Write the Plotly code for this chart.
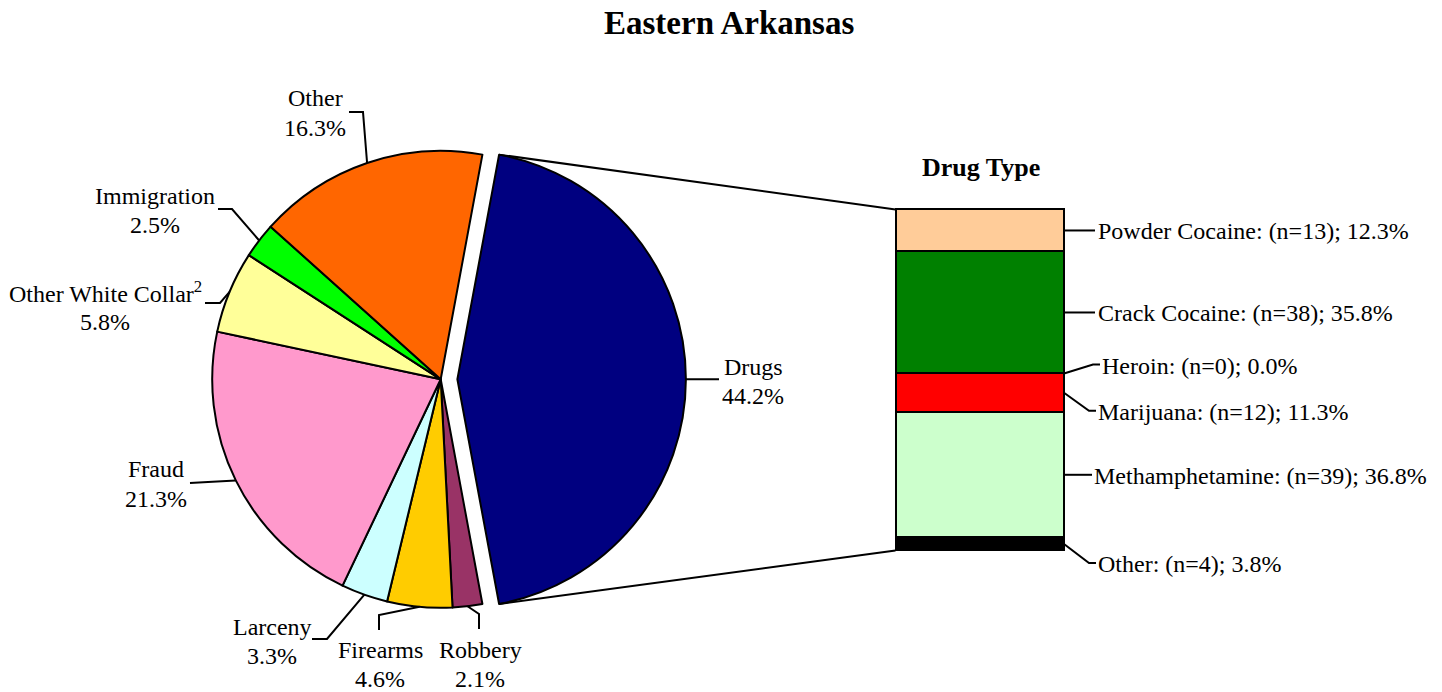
import math
import plotly.graph_objects as go

W, H = 1442, 692
FONT = "Liberation Serif"

# ---------------- data ----------------
# offense types, in clockwise order starting from the exploded Drugs slice
offense_labels = ["Drugs", "Robbery", "Firearms", "Larceny", "Fraud",
                  "Other White Collar<sup>2</sup>", "Immigration", "Other"]
offense_pct = [44.2, 2.1, 4.6, 3.3, 21.3, 5.8, 2.5, 16.3]
offense_colors = ["#000080", "#993366", "#FFCC00", "#CCFFFF", "#FF99CC",
                  "#FFFF99", "#00FF00", "#FF6600"]

# drug types, top to bottom in the stacked column
drug_labels = ["Powder Cocaine", "Crack Cocaine", "Heroin", "Marijuana",
               "Methamphetamine", "Other"]
drug_n = [13, 38, 0, 12, 39, 4]
drug_pct = [12.3, 35.8, 0.0, 11.3, 36.8, 3.8]
drug_colors = ["#FFCC99", "#008000", "#0000FF", "#FF0000", "#CCFFCC", "#000000"]

# ---------------- layout constants (pixels) ----------------
PIE_CX, PIE_CY, PIE_R = 440.7, 379.3, 228.5
PULL = 0.073

BAR_L, BAR_R = 895.5, 1064.0
BAR_BOT, BAR_TOP = 550.5, 209.5
XPAD, YPAD = 0.1, 3.0  # extra axis range so outlines are not clipped


def px(x):
    return x / W


def py(y):
    return 1 - y / H


fig = go.Figure()

# ---------------- pie ----------------
half = PIE_R * (1 + PULL)
total = sum(offense_pct)
drug_deg = 360 * offense_pct[0] / total
rotation = 90 - drug_deg / 2

fig.add_trace(go.Pie(
    labels=offense_labels,
    values=offense_pct,
    sort=False,
    direction="clockwise",
    rotation=rotation,
    pull=[PULL] + [0] * (len(offense_pct) - 1),
    marker=dict(colors=offense_colors, line=dict(color="black", width=2)),
    textinfo="none",
    hoverinfo="label+percent",
    showlegend=False,
    domain=dict(x=[px(PIE_CX - half), px(PIE_CX + half)],
                y=[py(PIE_CY + half), py(PIE_CY - half)]),
))

# ---------------- stacked column ----------------
xrange = [-0.5 - XPAD, 0.5 + XPAD]
unit_x = (BAR_R - BAR_L) / 1.0
dom_l = BAR_L - XPAD * unit_x
dom_r = BAR_R + XPAD * unit_x
unit_y = (BAR_BOT - BAR_TOP) / 100.0
dom_b = BAR_BOT + YPAD * unit_y
dom_t = BAR_TOP - YPAD * unit_y

for lab, val, col in reversed(list(zip(drug_labels, drug_pct, drug_colors))):
    fig.add_trace(go.Bar(
        x=[0], y=[val], width=1, name=lab,
        marker=dict(color=col, line=dict(color="black", width=2)),
        showlegend=False, hoverinfo="name+y",
    ))


def ybar(v):
    return BAR_BOT - v * unit_y


shapes = []
annotations = []


def path(points, width=2):
    d = "M " + " L ".join(f"{px(x):.5f},{py(y):.5f}" for x, y in points)
    shapes.append(dict(type="path", path=d, xref="paper", yref="paper",
                       line=dict(color="black", width=width)))


def text(x, y, s, size=24, xanchor="center", bold=False):
    if bold:
        s = f"<b>{s}</b>"
    annotations.append(dict(x=px(x), y=py(y), xref="paper", yref="paper",
                            text=s, showarrow=False, xanchor=xanchor,
                            yanchor="middle",
                            font=dict(family=FONT, size=size, color="black")))


# slice mid-angle attach points (clockwise degrees from 12 o'clock)
cum = 0.0
attach = []
for i, v in enumerate(offense_pct):
    mid = rotation + 360 * (cum + v / 2) / total
    cx = PIE_CX + (PULL * PIE_R * math.sin(math.radians(mid)) if i == 0 else 0)
    cy = PIE_CY - (PULL * PIE_R * math.cos(math.radians(mid)) if i == 0 else 0)
    attach.append((cx + PIE_R * math.sin(math.radians(mid)),
                   cy - PIE_R * math.cos(math.radians(mid))))
    cum += v

# label placement: (leader elbows, label centre x, line1 y, line2 y)
label_layout = {
    "Drugs": ([(719, None)], 753, 367, 396),
    "Robbery": ([(479, 614), (479, 629)], 480, 650, 679),
    "Firearms": ([(379, 615), (379, 630)], 380, 650, 679),
    "Larceny": ([(327, 639), (312, 639)], 272, 627, 656),
    "Fraud": ([(208, 482), (190, 483)], 156, 469, 499),
    "Other White Collar<sup>2</sup>": ([(220, 303), (205, 303)], 105, 292, 322),
    "Immigration": ([(232, 209), (218, 209)], 155, 196, 225),
    "Other": ([(363, 112), (349, 112)], 315, 98, 128),
}

for lab, val, (ax, ay) in zip(offense_labels, offense_pct, attach):
    pts, tx, y1, y2 = label_layout[lab]
    pts = [(x, ay if y is None else y) for x, y in pts]
    path([(ax, ay)] + pts)
    text(tx, y1, lab)
    text(tx, y2, f"{val:.1f}%")

# connector lines from the Drugs slice to the column
pcx = PIE_CX + PULL * PIE_R
for ang, ycorner in [(rotation, BAR_TOP), (rotation + drug_deg, BAR_BOT)]:
    ex = pcx + PIE_R * math.sin(math.radians(ang))
    ey = PIE_CY - PIE_R * math.cos(math.radians(ang))
    path([(ex, ey), (BAR_L, ycorner)], width=2)

# column labels
bounds = []
top = 100.0
for v in drug_pct:
    bounds.append((top, top - v))
    top -= v

# (anchor at segment "mid" or "bottom", vertical offset px, line end x, label x)
bar_label_style = {
    "Powder Cocaine": ("mid", 0, 1095, 1096),
    "Crack Cocaine": ("mid", 0, 1095, 1096),
    "Heroin": ("bottom", -9, 1100, 1100),
    "Marijuana": ("mid", 18, 1096, 1096),
    "Methamphetamine": ("mid", 0, 1092, 1092),
    "Other": ("mid", 19, 1096, 1096),
}
for lab, n, v, (t, b) in zip(drug_labels, drug_n, drug_pct, bounds):
    kind, dy, xend, xlab = bar_label_style[lab]
    ys = ybar((t + b) / 2) if kind == "mid" else ybar(b)
    ye = ys + dy
    if dy == 0:
        path([(BAR_R, ys), (xend, ye)])
    else:
        path([(BAR_R, ys), (xend - 7, ye), (xend, ye)])
    text(xlab, ye + 1, f"{lab}: (n={n}); {v:.1f}%", xanchor="left")

# titles
text(729, 23, "Eastern Arkansas", size=33, bold=True)
text(981, 167, "Drug Type", size=26, bold=True)

fig.update_layout(
    width=W, height=H,
    margin=dict(l=0, r=0, t=0, b=0),
    paper_bgcolor="white", plot_bgcolor="white",
    barmode="stack", bargap=0,
    xaxis=dict(domain=[px(dom_l), px(dom_r)], range=xrange, visible=False,
               fixedrange=True),
    yaxis=dict(domain=[py(dom_b), py(dom_t)], range=[-YPAD, 100 + YPAD],
               visible=False, fixedrange=True),
    shapes=shapes,
    annotations=annotations,
    showlegend=False,
)

fig.write_html("out.html", config={"displayModeBar": False},
               post_script="document.body.style.margin='0';")
